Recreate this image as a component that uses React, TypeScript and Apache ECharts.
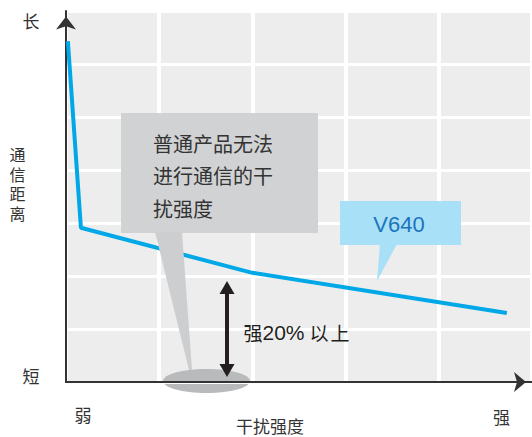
import React, { useEffect, useRef } from "react";
import * as echarts from "echarts";

// Interference strength (x, 0..100) vs communication distance (y, 0..70)
const xTicks = [0, 20, 40, 60, 80, 100];
const yTicks = [0, 10, 20, 30, 40, 50, 60, 70];
const v640Line: [number, number][] = [
  [0.4, 64.3],
  [3.2, 29.1],
  [40, 20.6],
  [94.6, 13.0],
];
const yTopLabel = "长";
const yBottomLabel = "短";
const yAxisName = ["通", "信", "距", "离"];
const xLeftLabel = "弱";
const xRightLabel = "强";
const xAxisName = "干扰强度";
const calloutLines = ["普通产品无法", "进行通信的干", "扰强度"];
const seriesName = "V640";
const gapLabelParts = ["强", "20%", "以", "上"];

const CJK = '"Noto Sans CJK SC", "Noto Sans", sans-serif';
const LATIN = '"Liberation Sans", Arial, sans-serif';
const TIGHT = '"Liberation Sans", "Noto Sans CJK SC", sans-serif';

export default function App() {
  const ref = useRef<HTMLDivElement>(null);
  useEffect(() => {
    if (!ref.current) return;
    const chart = echarts.init(ref.current, undefined, { renderer: "svg" });
    const txt = (text: string, x: number, y: number, size: number, fill = "#333", align = "center", family = CJK) => ({
      type: "text",
      z: 50,
      style: { text, x, y, font: `${size}px ${family}`, fill, align, verticalAlign: "middle" },
    });
    chart.setOption({
      animation: false,
      grid: {
        left: 66,
        top: 11,
        width: 466,
        height: 371,
        show: true,
        backgroundColor: "#ededed",
        borderWidth: 0,
      },
      xAxis: {
        type: "value",
        min: xTicks[0],
        max: xTicks[xTicks.length - 1],
        interval: xTicks[1] - xTicks[0],
        z: 30,
        axisLine: {
          show: true,
          lineStyle: { color: "#333", width: 2 },
          symbol: ["none", "arrow"],
          symbolSize: [15, 12],
          symbolOffset: [0, -6],
        },
        axisTick: { show: false },
        axisLabel: { show: false },
        splitLine: { show: true, lineStyle: { color: "#ffffff", width: 4 } },
      },
      yAxis: {
        type: "value",
        min: yTicks[0],
        max: yTicks[yTicks.length - 1],
        interval: yTicks[1] - yTicks[0],
        z: 30,
        axisLine: {
          show: true,
          lineStyle: { color: "#333", width: 2 },
          symbol: ["none", "arrow"],
          symbolSize: [15, 13],
          symbolOffset: [0, -5.5],
        },
        axisTick: { show: false },
        axisLabel: { show: false },
        splitLine: { show: true, lineStyle: { color: "#ffffff", width: 3 } },
      },
      series: [
        {
          name: seriesName,
          type: "line",
          data: v640Line,
          symbol: "none",
          z: 35,
          lineStyle: { color: "#00a8e8", width: 4 },
        },
      ],
      graphic: [
        // gray callout
        { type: "rect", z: 40, shape: { x: 121, y: 113, width: 197, height: 120 }, style: { fill: "#d1d2d4" } },
        { type: "polygon", z: 40, shape: { points: [[155, 232], [182, 232], [192, 370], [189, 370]] }, style: { fill: "#cdced0" } },
        txt(calloutLines[0], 153, 143, 20, "#333", "left"),
        txt(calloutLines[1], 153, 175.5, 20, "#333", "left"),
        txt(calloutLines[2], 153, 208, 20, "#333", "left"),
        // ellipse
        { type: "ellipse", z: 8, shape: { cx: 206.5, cy: 381, rx: 43.5, ry: 12 }, style: { fill: "#b9babc" } },
        // double arrow
        { type: "line", z: 45, shape: { x1: 227, y1: 292, x2: 227, y2: 366 }, style: { stroke: "#231f20", lineWidth: 4 } },
        { type: "polygon", z: 45, shape: { points: [[227, 281], [219.5, 294], [234.5, 294]] }, style: { fill: "#231f20" } },
        { type: "polygon", z: 45, shape: { points: [[227, 377], [219.5, 364], [234.5, 364]] }, style: { fill: "#231f20" } },
        txt(gapLabelParts[0], 253, 332, 19, "#231f20", "center"),
        txt(gapLabelParts[1], 262.5, 332, 21, "#231f20", "left", LATIN),
        txt(gapLabelParts[2], 319, 332, 19, "#231f20", "center"),
        txt(gapLabelParts[3], 340, 332, 19, "#231f20", "center"),
        // V640 callout
        { type: "rect", z: 40, shape: { x: 340, y: 201, width: 121, height: 44 }, style: { fill: "#a8e0f8" } },
        { type: "polygon", z: 40, shape: { points: [[380, 244], [397, 244], [377, 281]] }, style: { fill: "#a8e0f8" } },
        txt(seriesName, 399, 224, 22, "#1d74bb", "center", LATIN),
        // axis end labels
        txt(yTopLabel, 31, 20, 17),
        txt(yBottomLabel, 31, 375, 17),
        ...yAxisName.map((c, i) => txt(c, 17.5, 155.75 + i * 19.5, 16, "#333", "center", TIGHT)),
        txt(xLeftLabel, 83, 414, 17),
        txt(xRightLabel, 501.5, 416.5, 17),
        txt(xAxisName, 270, 425.5, 17),
      ],
    });
    return () => chart.dispose();
  }, []);
  return <div ref={ref} style={{ position: "absolute", left: 0, top: 0, width: 532, height: 437 }} />;
}
